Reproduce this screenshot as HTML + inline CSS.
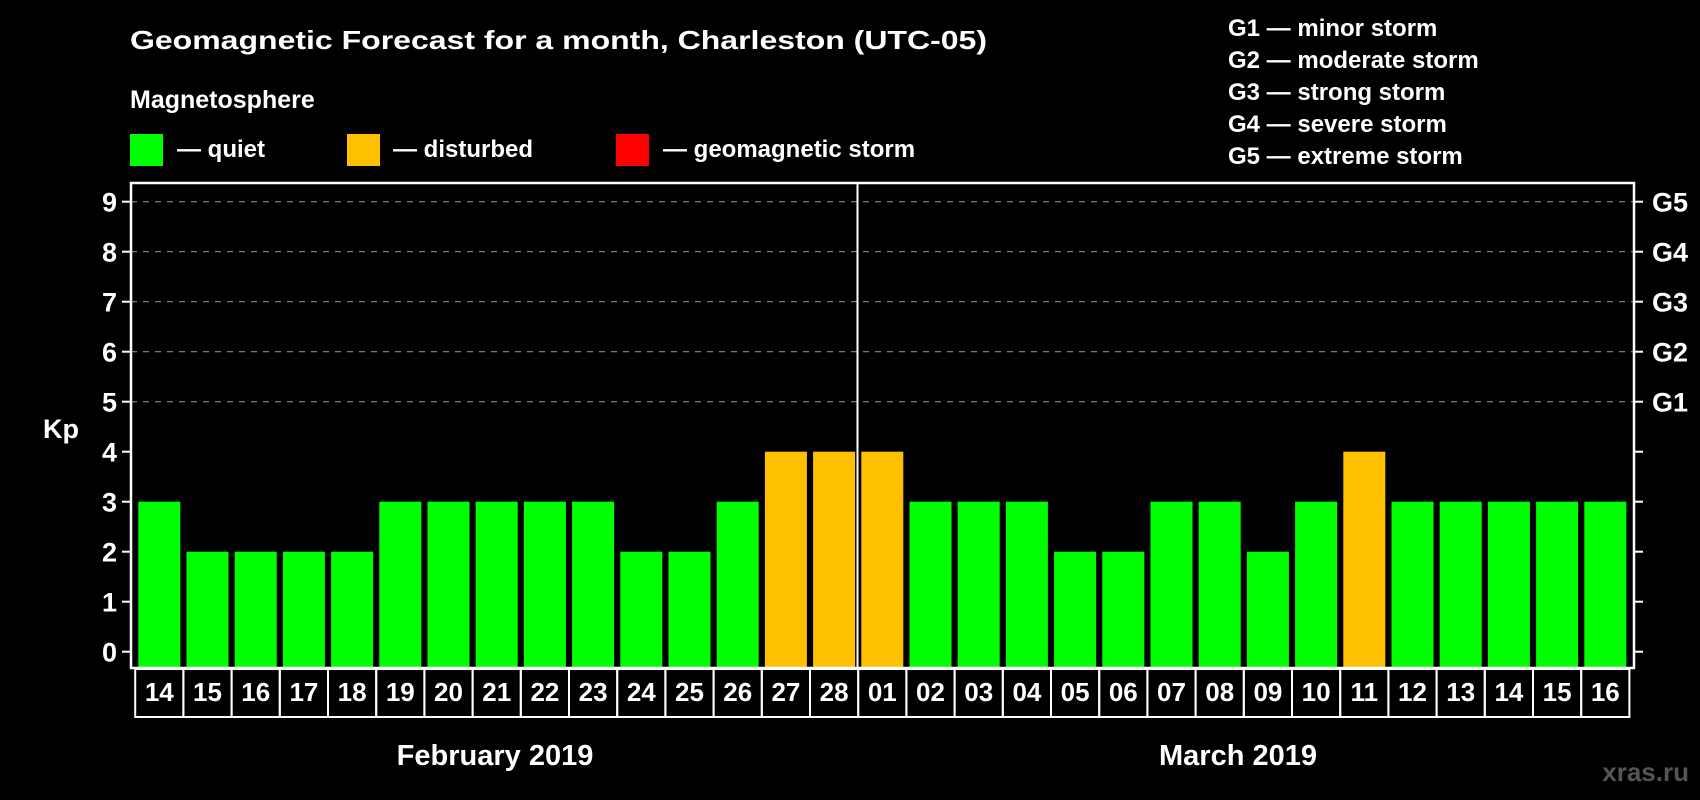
<!DOCTYPE html>
<html><head><meta charset="utf-8"><style>
html,body{margin:0;padding:0;background:#000;}
svg{display:block;font-family:"Liberation Sans",sans-serif;font-weight:bold;}
</style></head><body>
<svg id="chart" width="1700" height="800" viewBox="0 0 1700 800">
<rect width="1700" height="800" fill="#000"/>
<text x="130" y="49" fill="#fff" font-size="26" textLength="857" lengthAdjust="spacingAndGlyphs">Geomagnetic Forecast for a month, Charleston (UTC-05)</text>
<text x="130" y="108" fill="#fff" font-size="25">Magnetosphere</text>
<g><rect x="130" y="134" width="33" height="32" fill="#00ff00"/><text x="177" y="157" fill="#fff" font-size="24">— quiet</text></g>
<g><rect x="347" y="134" width="33" height="32" fill="#ffc000"/><text x="393" y="157" fill="#fff" font-size="24">— disturbed</text></g>
<g><rect x="616" y="134" width="33" height="32" fill="#ff0000"/><text x="663" y="157" fill="#fff" font-size="24">— geomagnetic storm</text></g>
<g fill="#fff" font-size="24">
<text x="1228" y="36">G1 — minor storm</text>
<text x="1228" y="68">G2 — moderate storm</text>
<text x="1228" y="100">G3 — strong storm</text>
<text x="1228" y="132">G4 — severe storm</text>
<text x="1228" y="164">G5 — extreme storm</text>
</g>
<text x="43" y="438" fill="#fff" font-size="27">Kp</text>
<g id="grid"></g><g id="bars"></g><g id="axes"></g><g id="dates"></g>
<text x="495" y="765" fill="#fff" font-size="29" text-anchor="middle">February 2019</text>
<text x="1238" y="765" fill="#fff" font-size="29" text-anchor="middle">March 2019</text>
<text x="1689" y="781" fill="#555" font-size="26" text-anchor="end">xras.ru</text>
</svg>
<script>
const days = ["14","15","16","17","18","19","20","21","22","23","24","25","26","27","28","01","02","03","04","05","06","07","08","09","10","11","12","13","14","15","16"];
const kpValues = [3,2,2,2,2,3,3,3,3,3,2,2,3,4,4,4,3,3,3,2,2,3,3,2,3,4,3,3,3,3,3];
const yTicks = [0,1,2,3,4,5,6,7,8,9];
const gLabels = ["G1","G2","G3","G4","G5"];
const NS="http://www.w3.org/2000/svg";
const L=131,R=1634,T=183,B=668;
const y0=651.7,unit=50;
const x0=138.3,pitch=48.2,bw=42;
function ys(v){return y0-v*unit;}
function xs(i){return x0+i*pitch;}
function mk(tag,attrs,parent){const e=document.createElementNS(NS,tag);for(const k in attrs)e.setAttribute(k,attrs[k]);parent.appendChild(e);return e;}
const grid=document.getElementById('grid'),bars=document.getElementById('bars'),axes=document.getElementById('axes'),dates=document.getElementById('dates');
yTicks.forEach(v=>{
  if(v>=5){const g=mk('line',{x1:L,x2:R,y1:ys(v),y2:ys(v),stroke:'#888','stroke-width':1.2,'stroke-dasharray':'6,6'},grid);
  
  }
  const t=mk('line',{x1:L-9,x2:L,y1:ys(v),y2:ys(v),stroke:'#fff','stroke-width':2},axes);
  
  
  const t2=mk('line',{x1:R,x2:R+9,y1:ys(v),y2:ys(v),stroke:'#fff','stroke-width':2},axes);
  
  
  const lb=mk('text',{x:L-14,y:ys(v)+10,fill:'#fff','font-size':27,'text-anchor':'end'},axes);
  lb.textContent=v;
  
  
});
gLabels.forEach((g,i)=>{
  const t=mk('text',{x:1652,y:ys(5+i)+10,fill:'#fff','font-size':27},axes);
  t.textContent=g;
  
  
});
kpValues.forEach((v,i)=>{
  const c=v>=5?'#ff0000':(v>=4?'#ffc000':'#00ff00');
  const r=mk('rect',{x:xs(i),y:ys(v),width:bw,height:B-ys(v),fill:c},bars);
  
  
});
const fr=mk('path',{d:`M${L} ${B} V${T} H${R} V${B} Z`,fill:'none',stroke:'#fff','stroke-width':2.5},axes);


const sep=mk('line',{x1:857.5,x2:857.5,y1:T,y2:B,stroke:'#fff','stroke-width':2},axes);


days.forEach((d,i)=>{
  const cx=xs(i)+bw/2;
  const bx=mk('rect',{x:cx-pitch/2,y:669,width:pitch,height:48,fill:'none',stroke:'#fff','stroke-width':2},dates);
  
  
  const t=mk('text',{x:cx,y:701,fill:'#fff','font-size':26,'text-anchor':'middle'},dates);
  t.textContent=d;
  
  
});
</script>
</body></html>
